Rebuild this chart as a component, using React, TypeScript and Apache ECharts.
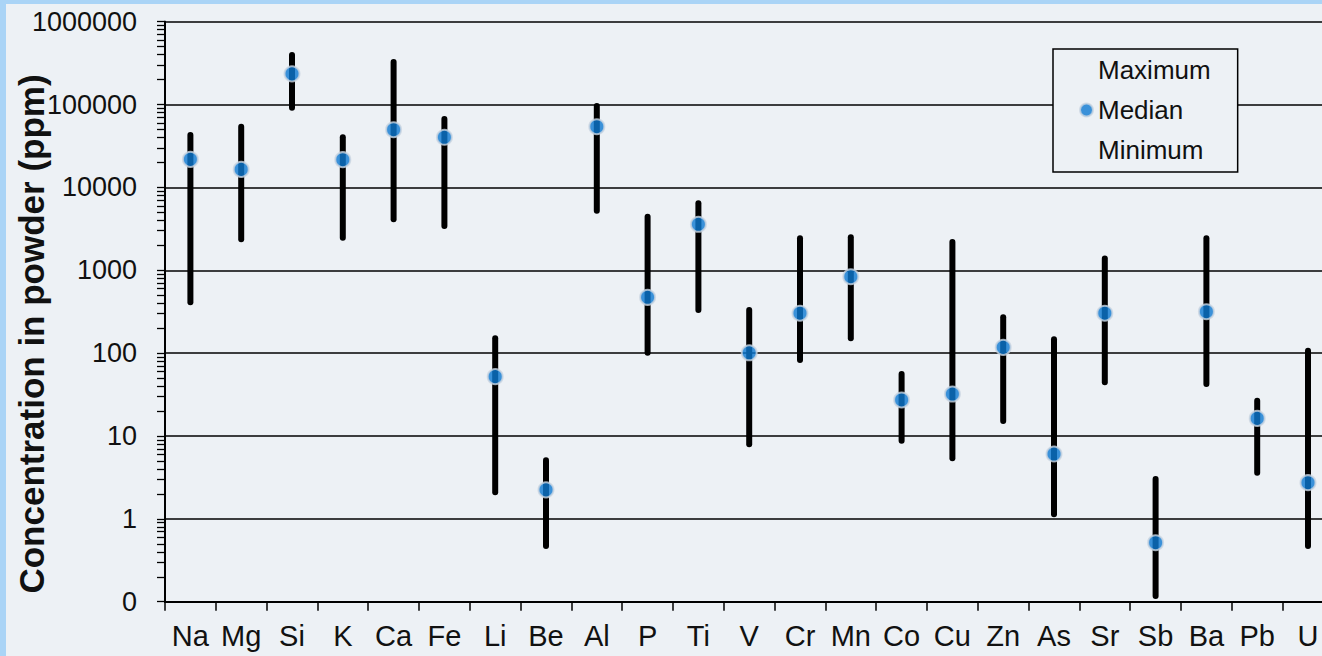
import React, { useEffect, useRef } from "react";
import * as echarts from "echarts";

const categories = ["Na", "Mg", "Si", "K", "Ca", "Fe", "Li", "Be", "Al", "P", "Ti", "V", "Cr", "Mn", "Co", "Cu", "Zn", "As", "Sr", "Sb", "Ba", "Pb", "U"];
const maximum = [42900, 54000, 396000, 40300, 326000, 66900, 151, 5.1, 96000, 4430, 6430, 331, 2430, 2500, 56, 2190, 271, 147, 1390, 3.03, 2430, 26.7, 107];
const median = [21800, 16500, 235000, 21600, 49700, 40300, 52, 2.24, 54000, 472, 3590, 101, 303, 836, 27.2, 32.1, 117.5, 6.06, 303, 0.515, 316, 16.3, 2.73];
const minimum = [410, 2370, 91600, 2470, 4120, 3420, 2.09, 0.47, 5240, 101, 331, 7.94, 82.6, 151, 8.77, 5.38, 15.2, 1.14, 44.4, 0.117, 42.4, 3.6, 0.47];
const decades = [0.1, 1, 10, 100, 1000, 10000, 100000, 1000000];
const minorSteps = [2, 3, 4, 5, 6, 7, 8, 9];

const FONT = "'Liberation Sans', Arial, Helvetica, sans-serif";

export default function App() {
  const ref = useRef<HTMLDivElement>(null);
  useEffect(() => {
    if (!ref.current) return;
    const chart = echarts.init(ref.current, null, { renderer: "svg" });
    const tickValues: number[] = [];
    decades.forEach((d, i) => {
      tickValues.push(d);
      if (i < decades.length - 1) minorSteps.forEach((m) => tickValues.push(+(d * m).toPrecision(6)));
    });
    const option: any = {
      animation: false,
      backgroundColor: "transparent",
      textStyle: { fontFamily: FONT },
      grid: { left: 165, top: 21.7, height: 580, width: 23 * 50.8, containLabel: false },
      xAxis: {
        type: "category",
        data: categories,
        boundaryGap: true,
        axisLine: { lineStyle: { color: "#000", width: 2 } },
        axisTick: { show: true, interval: 0, length: 9, lineStyle: { color: "#000", width: 1.5 } },
        axisLabel: { interval: 0, fontSize: 29, color: "#111", margin: 20, fontFamily: FONT },
        splitLine: { show: false },
      },
      yAxis: [
        {
          type: "log",
          logBase: 10,
          min: 0.1,
          max: 1000000,
          interval: 1,
          position: "left",
          offset: 0,
          axisLine: { show: true, lineStyle: { color: "#000", width: 2 } },
          axisTick: { show: false },
          axisLabel: {
            fontSize: 27,
            color: "#111",
            margin: 28,
            fontFamily: FONT,
            formatter: (v: number) => (v < 0.5 ? "0" : String(Math.round(v))),
          },
          splitLine: { show: true, lineStyle: { color: "#000", width: 1.5 } },
        },
        {
          type: "log",
          logBase: 10,
          min: 0.1,
          max: 1000000,
          position: "left",
          offset: 0,
          axisLine: { show: true, lineStyle: { color: "#000", width: 2 } },
          axisTick: { show: true, length: 8, customValues: tickValues, lineStyle: { color: "#000", width: 1.3 } },
          axisLabel: { show: false },
          splitLine: { show: false },
        },
      ],
      legend: {
        orient: "vertical",
        left: 1053,
        top: 49,
        padding: [8, 27, 9, 26],
        itemGap: 14,
        itemWidth: 13,
        itemHeight: 13,
        selectedMode: false,
        backgroundColor: "#edf1f5",
        borderColor: "#000",
        borderWidth: 1.5,
        textStyle: { fontSize: 26, color: "#111", fontFamily: FONT, lineHeight: 26 },
        data: ["Maximum", "Median", "Minimum"],
      },
      graphic: [
        {
          type: "text",
          x: 31,
          y: 334,
          rotation: Math.PI / 2,
          style: {
            text: "Concentration in powder (ppm)",
            fontSize: 35,
            fontWeight: "bold",
            fontFamily: FONT,
            fill: "#111",
            align: "center",
            verticalAlign: "middle",
          },
        },
      ],
      series: [
        {
          type: "custom",
          name: "range",
          z: 2,
          data: categories.map((_, i) => [i, minimum[i], maximum[i]]),
          encode: { x: 0, y: [1, 2] },
          renderItem: (params: any, api: any) => {
            const i = api.value(0);
            const lo = api.coord([i, api.value(1)]);
            const hi = api.coord([i, api.value(2)]);
            return {
              type: "line",
              shape: { x1: lo[0], y1: lo[1], x2: hi[0], y2: hi[1] },
              style: { stroke: "#000", lineWidth: 6, lineCap: "round" },
            };
          },
        },
        {
          type: "scatter",
          name: "Maximum",
          data: maximum,
          symbolSize: 0,
          itemStyle: { color: "rgba(0,0,0,0)" },
          z: 1,
        },
        {
          type: "scatter",
          name: "Median",
          data: median,
          symbol: "circle",
          symbolSize: 15,
          itemStyle: { color: "#0d79d2", borderColor: "#c9d5e1", borderWidth: 2 },
          z: 4,
        },
        {
          type: "scatter",
          name: "Minimum",
          data: minimum,
          symbolSize: 0,
          itemStyle: { color: "rgba(0,0,0,0)" },
          z: 1,
        },
      ],
    };
    chart.setOption(option);
    return () => chart.dispose();
  }, []);

  return (
    <div style={{ position: "fixed", left: 0, top: 0, width: 1322, height: 656, background: "#aad4f6", overflow: "hidden" }}>
      <div style={{ position: "absolute", left: 6, top: 4, right: 0, bottom: 0, background: "#edf1f5" }} />
      <div ref={ref} style={{ position: "absolute", left: 0, top: 0, width: 1345, height: 656 }} />
    </div>
  );
}
